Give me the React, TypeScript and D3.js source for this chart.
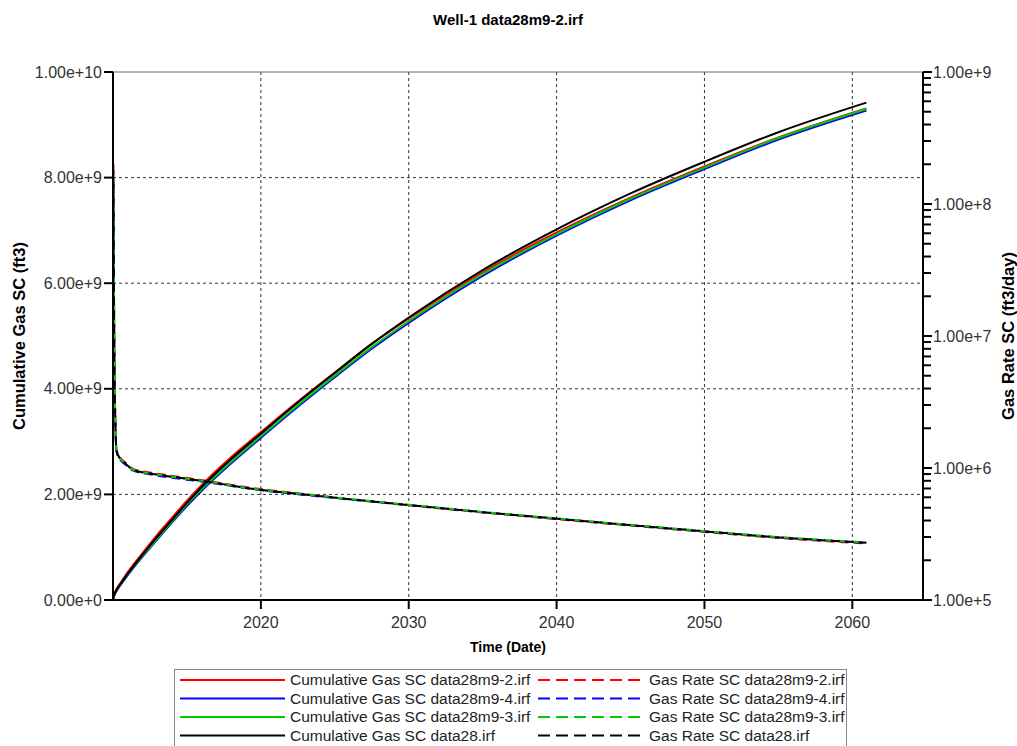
import React from "react";
import * as d3 from "d3";

// ---- data ----
const cumYears = [2010.0, 2010.02, 2010.08, 2010.2, 2010.5, 2011, 2012, 2013, 2014, 2015, 2016, 2018, 2020, 2022.5, 2025, 2027.5, 2030, 2035, 2040, 2045, 2050, 2055, 2060.95];
// cumulative gas, units of 1e9 ft3
const cumRed = [0, 0.04, 0.10, 0.19, 0.32, 0.53, 0.89, 1.24, 1.56, 1.88, 2.18, 2.71, 3.18, 3.76, 4.31, 4.85, 5.33, 6.21, 6.96, 7.62, 8.21, 8.76, 9.31];
const cumBlue = [0, 0.02, 0.08, 0.15, 0.28, 0.47, 0.82, 1.15, 1.47, 1.78, 2.07, 2.59, 3.07, 3.66, 4.22, 4.76, 5.25, 6.14, 6.90, 7.57, 8.16, 8.72, 9.27];
const cumGreen = [0, 0.03, 0.09, 0.16, 0.29, 0.49, 0.84, 1.17, 1.49, 1.81, 2.10, 2.62, 3.10, 3.69, 4.25, 4.79, 5.28, 6.17, 6.93, 7.60, 8.19, 8.75, 9.30];
const cumBlack = [0, 0.03, 0.09, 0.17, 0.30, 0.50, 0.86, 1.20, 1.52, 1.84, 2.14, 2.67, 3.15, 3.74, 4.30, 4.85, 5.35, 6.25, 7.02, 7.70, 8.30, 8.86, 9.42];

const rateYears = [2010.03, 2010.06, 2010.1, 2010.15, 2010.24, 2010.5, 2010.8, 2011.36, 2012.49, 2013.62, 2016.33, 2019.26, 2022.64, 2026, 2030, 2035, 2040, 2045, 2050, 2055, 2060.95];
// gas rate, ft3/day
const rateRed = [2.0e8, 3.2e7, 6.3e6, 2.6e6, 1.37e6, 1.19e6, 1.11e6, 9.85e5, 9.25e5, 8.85e5, 8.0e5, 7.1e5, 6.4e5, 5.8e5, 5.22e5, 4.6e5, 4.1e5, 3.66e5, 3.28e5, 2.95e5, 2.68e5];
const rateBlue = [1.5e8, 2.9e7, 5.8e6, 2.4e6, 1.32e6, 1.15e6, 1.07e6, 9.55e5, 8.95e5, 8.55e5, 7.8e5, 6.95e5, 6.3e5, 5.78e5, 5.24e5, 4.63e5, 4.13e5, 3.69e5, 3.31e5, 2.98e5, 2.71e5];
const rateGreen = [1.6e8, 3.0e7, 6.0e6, 2.5e6, 1.35e6, 1.17e6, 1.09e6, 9.7e5, 9.1e5, 8.7e5, 7.9e5, 7.0e5, 6.38e5, 5.83e5, 5.27e5, 4.65e5, 4.15e5, 3.71e5, 3.33e5, 3.0e5, 2.74e5];
const rateBlack = [1.8e8, 3.0e7, 6.0e6, 2.5e6, 1.35e6, 1.17e6, 1.09e6, 9.7e5, 9.1e5, 8.7e5, 7.9e5, 7.0e5, 6.35e5, 5.8e5, 5.24e5, 4.63e5, 4.13e5, 3.69e5, 3.31e5, 2.98e5, 2.72e5];

const seriesNames = ["data28m9-2.irf", "data28m9-4.irf", "data28m9-3.irf", "data28.irf"];
const seriesColors = ["#ff0000", "#0000ff", "#00cc00", "#000000"];
const cumSeries = [cumRed, cumBlue, cumGreen, cumBlack];
const rateSeries = [rateRed, rateBlue, rateGreen, rateBlack];

const xTicks = [2020, 2030, 2040, 2050, 2060];
const leftTicks = [0, 2e9, 4e9, 6e9, 8e9, 1e10];
const rightTicks = [1e5, 1e6, 1e7, 1e8, 1e9];

const W = 1017;
const H = 746;
const L = 113, R = 923, T = 72, B = 600;
const FONT = "'Liberation Sans', Arial, sans-serif";

export default function App() {
  const x = d3.scaleLinear().domain([2010.0, 2064.78]).range([L, R]);
  const yL = d3.scaleLinear().domain([0, 1e10]).range([B, T]);
  const yR = d3.scaleLog().domain([1e5, 1e9]).range([B, T]);
  const fmt = d3.format(".2e");

  const cumLine = d3
    .line<number>()
    .x((_, i) => x(cumYears[i]))
    .y((v) => yL(v * 1e9))
    .curve(d3.curveMonotoneX);
  const rateLine = d3
    .line<number>()
    .x((_, i) => x(rateYears[i]))
    .y((v) => yR(v))
    .curve(d3.curveMonotoneX);

  const minor: number[] = [];
  for (let d = 1e5; d < 1e9; d *= 10) for (let k = 2; k <= 9; k++) minor.push(d * k);

  const legendRows = [680, 698.5, 717, 735.5];

  return (
    <svg width={W} height={H} style={{ position: "absolute", left: 0, top: 0, background: "#fff" }} fontFamily={FONT}>
      <rect x={0} y={0} width={W} height={H} fill="#fff" />
      <text x={508} y={25} textAnchor="middle" fontSize={15} fontWeight="bold" fill="#000">
        Well-1 data28m9-2.irf
      </text>

      {/* grid */}
      {leftTicks.filter((v) => v > 0 && v < 1e10).map((v) => (
        <line key={"gy" + v} x1={L} x2={R} y1={yL(v)} y2={yL(v)} stroke="#333" strokeWidth={1} strokeDasharray="3,3" />
      ))}
      {xTicks.map((v) => (
        <line key={"gx" + v} x1={x(v)} x2={x(v)} y1={T} y2={B} stroke="#333" strokeWidth={1} strokeDasharray="3,3" />
      ))}
      <line x1={L} x2={R} y1={T} y2={T} stroke="#666" strokeWidth={1} />

      {/* curves */}
      <g clipPath="url(#plotclip)">
        {cumSeries.map((s, i) => (
          <path key={"c" + i} d={cumLine(s) || ""} fill="none" stroke={seriesColors[i]} strokeWidth={2} />
        ))}
        {rateSeries.map((s, i) => (
          <path key={"r" + i} d={rateLine(s) || ""} fill="none" stroke={seriesColors[i]} strokeWidth={2} strokeDasharray="9,5" />
        ))}
      </g>
      <defs>
        <clipPath id="plotclip">
          <rect x={L} y={T} width={R - L} height={B - T} />
        </clipPath>
      </defs>

      {/* axes */}
      <line x1={L} x2={L} y1={T} y2={B + 1} stroke="#000" strokeWidth={2} />
      <line x1={R} x2={R} y1={T} y2={B + 1} stroke="#000" strokeWidth={2} />
      <line x1={L} x2={R} y1={B} y2={B} stroke="#000" strokeWidth={2} />

      {leftTicks.map((v) => (
        <g key={"lt" + v}>
          <line x1={L - 9} x2={L} y1={yL(v)} y2={yL(v)} stroke="#000" strokeWidth={2} />
          <text x={L - 11} y={yL(v) + 5.5} textAnchor="end" fontSize={16} fill="#333">
            {fmt(v)}
          </text>
        </g>
      ))}

      {rightTicks.map((v) => (
        <g key={"rt" + v}>
          <line x1={R} x2={R + 9} y1={yR(v)} y2={yR(v)} stroke="#000" strokeWidth={2} />
          <text x={R + 10} y={yR(v) + 5.5} textAnchor="start" fontSize={16} fill="#333">
            {fmt(v)}
          </text>
        </g>
      ))}
      {minor.map((v) => (
        <line key={"mn" + v} x1={R} x2={R + 8} y1={yR(v)} y2={yR(v)} stroke="#000" strokeWidth={2} />
      ))}

      {xTicks.map((v) => (
        <g key={"xt" + v}>
          <line x1={x(v)} x2={x(v)} y1={B} y2={B + 9} stroke="#000" strokeWidth={2} />
          <text x={x(v)} y={B + 28} textAnchor="middle" fontSize={16} fill="#333">
            {v}
          </text>
        </g>
      ))}

      <text x={508} y={652} textAnchor="middle" fontSize={14} fontWeight="bold" fill="#000">
        Time (Date)
      </text>
      <text transform={`translate(25,336) rotate(-90)`} textAnchor="middle" fontSize={16.5} fontWeight="bold" fill="#000">
        Cumulative Gas SC (ft3)
      </text>
      <text transform={`translate(1014,336) rotate(-90)`} textAnchor="middle" fontSize={16.5} fontWeight="bold" fill="#000">
        Gas Rate SC (ft3/day)
      </text>

      {/* legend */}
      <rect x={174.5} y={669.5} width={672} height={80} fill="#fff" stroke="#888" strokeWidth={1} />
      {seriesNames.map((n, i) => (
        <g key={"lg" + i}>
          <line x1={180} x2={285} y1={legendRows[i]} y2={legendRows[i]} stroke={seriesColors[i]} strokeWidth={2} />
          <text x={290} y={legendRows[i] + 5} fontSize={15.5} fill="#222">
            {"Cumulative Gas SC " + n}
          </text>
          <line x1={538} x2={643} y1={legendRows[i]} y2={legendRows[i]} stroke={seriesColors[i]} strokeWidth={2} strokeDasharray="12,6" />
          <text x={649} y={legendRows[i] + 5} fontSize={15.5} fill="#222">
            {"Gas Rate SC " + n}
          </text>
        </g>
      ))}
    </svg>
  );
}
